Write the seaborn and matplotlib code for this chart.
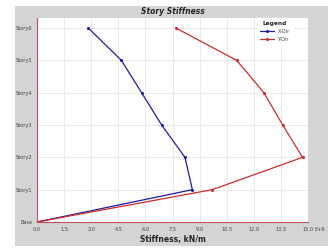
import matplotlib
matplotlib.use("Agg")
import matplotlib.pyplot as plt
import seaborn as sns
import pandas as pd
from matplotlib.patches import Rectangle

# story levels (Base .. Story6) and stiffness values (E+6 kN/m)
stories = ["Base", "Story1", "Story2", "Story3", "Story4", "Story5", "Story6"]
x_dir = [0.0, 8.60, 8.19, 6.90, 5.79, 4.67, 2.84]
y_dir = [0.0, 9.70, 14.70, 13.60, 12.56, 11.05, 7.69]
xticks = [0, 1.5, 3.0, 4.5, 6.0, 7.5, 9.0, 10.5, 12.0, 13.5, 15.0]

df = pd.concat([
    pd.DataFrame({"level": range(len(stories)), "stiff": x_dir, "dir": "X-Dir"}),
    pd.DataFrame({"level": range(len(stories)), "stiff": y_dir, "dir": "Y-Dir"}),
])

sns.set_style("white")
plt.rcParams["font.family"] = ["DejaVu Sans"]

fig = plt.figure(figsize=(3.34, 2.48), dpi=100, facecolor="white")
# grey panel behind the plot
fig.patches.append(Rectangle((15 / 334, 2 / 248), 313 / 334, 240 / 248,
                             transform=fig.transFigure, facecolor="#d4d4d4",
                             edgecolor="none", zorder=-5))
ax = fig.add_axes([37 / 334, 1 - 222 / 248, 271 / 334, 204 / 248])
ax.set_zorder(2)
ax.set_facecolor("white")

sns.lineplot(data=df, x="stiff", y="level", hue="dir", sort=False,
             palette={"X-Dir": "#1c1ca8", "Y-Dir": "#d42a2a"},
             marker="o", markersize=2.2, markeredgewidth=0, linewidth=0.9,
             estimator=None, ax=ax)

ax.set_xlim(0, 15)
ax.set_ylim(0, 6.31)
ax.set_xticks(xticks)
ax.set_xticklabels(["%.1f" % v for v in xticks])
ax.set_yticks(range(len(stories)))
ax.set_yticklabels(stories)
ax.grid(True, color="#e6e6e6", linewidth=0.6)
ax.tick_params(axis="both", labelsize=3.6, colors="#c05060", labelcolor="#444444",
               length=2, width=0.5, pad=1.5)
for s in ["top", "right"]:
    ax.spines[s].set_visible(False)
for s in ["left", "bottom"]:
    ax.spines[s].set_color("#c05060")
    ax.spines[s].set_linewidth(0.8)

ax.annotate("E+6", xy=(1.0, 0), xycoords="axes fraction", xytext=(4.5, -5.6),
            textcoords="offset points", fontsize=3.6, color="#444444", va="center")

ax.set_xlabel("Stiffness, kN/m", fontsize=5.5, fontweight="bold", labelpad=2)
ax.set_ylabel("")
fig.text(173 / 334, 1 - 11 / 248, "Story Stiffness", fontsize=5.5,
         fontweight="bold", fontstyle="italic", ha="center", va="center")

leg = ax.legend(title="Legend", loc="upper left", bbox_to_anchor=(0.81, 1.0),
                fontsize=3.6, title_fontsize=4.2, frameon=True,
                facecolor="white", edgecolor="white", framealpha=1,
                handlelength=2.8, borderaxespad=0.0, labelspacing=0.6,
                borderpad=0.6)
leg.get_title().set_fontweight("bold")
for t in leg.get_texts():
    t.set_color("#444444")

fig.savefig("out.png", dpi=100, facecolor="white")
